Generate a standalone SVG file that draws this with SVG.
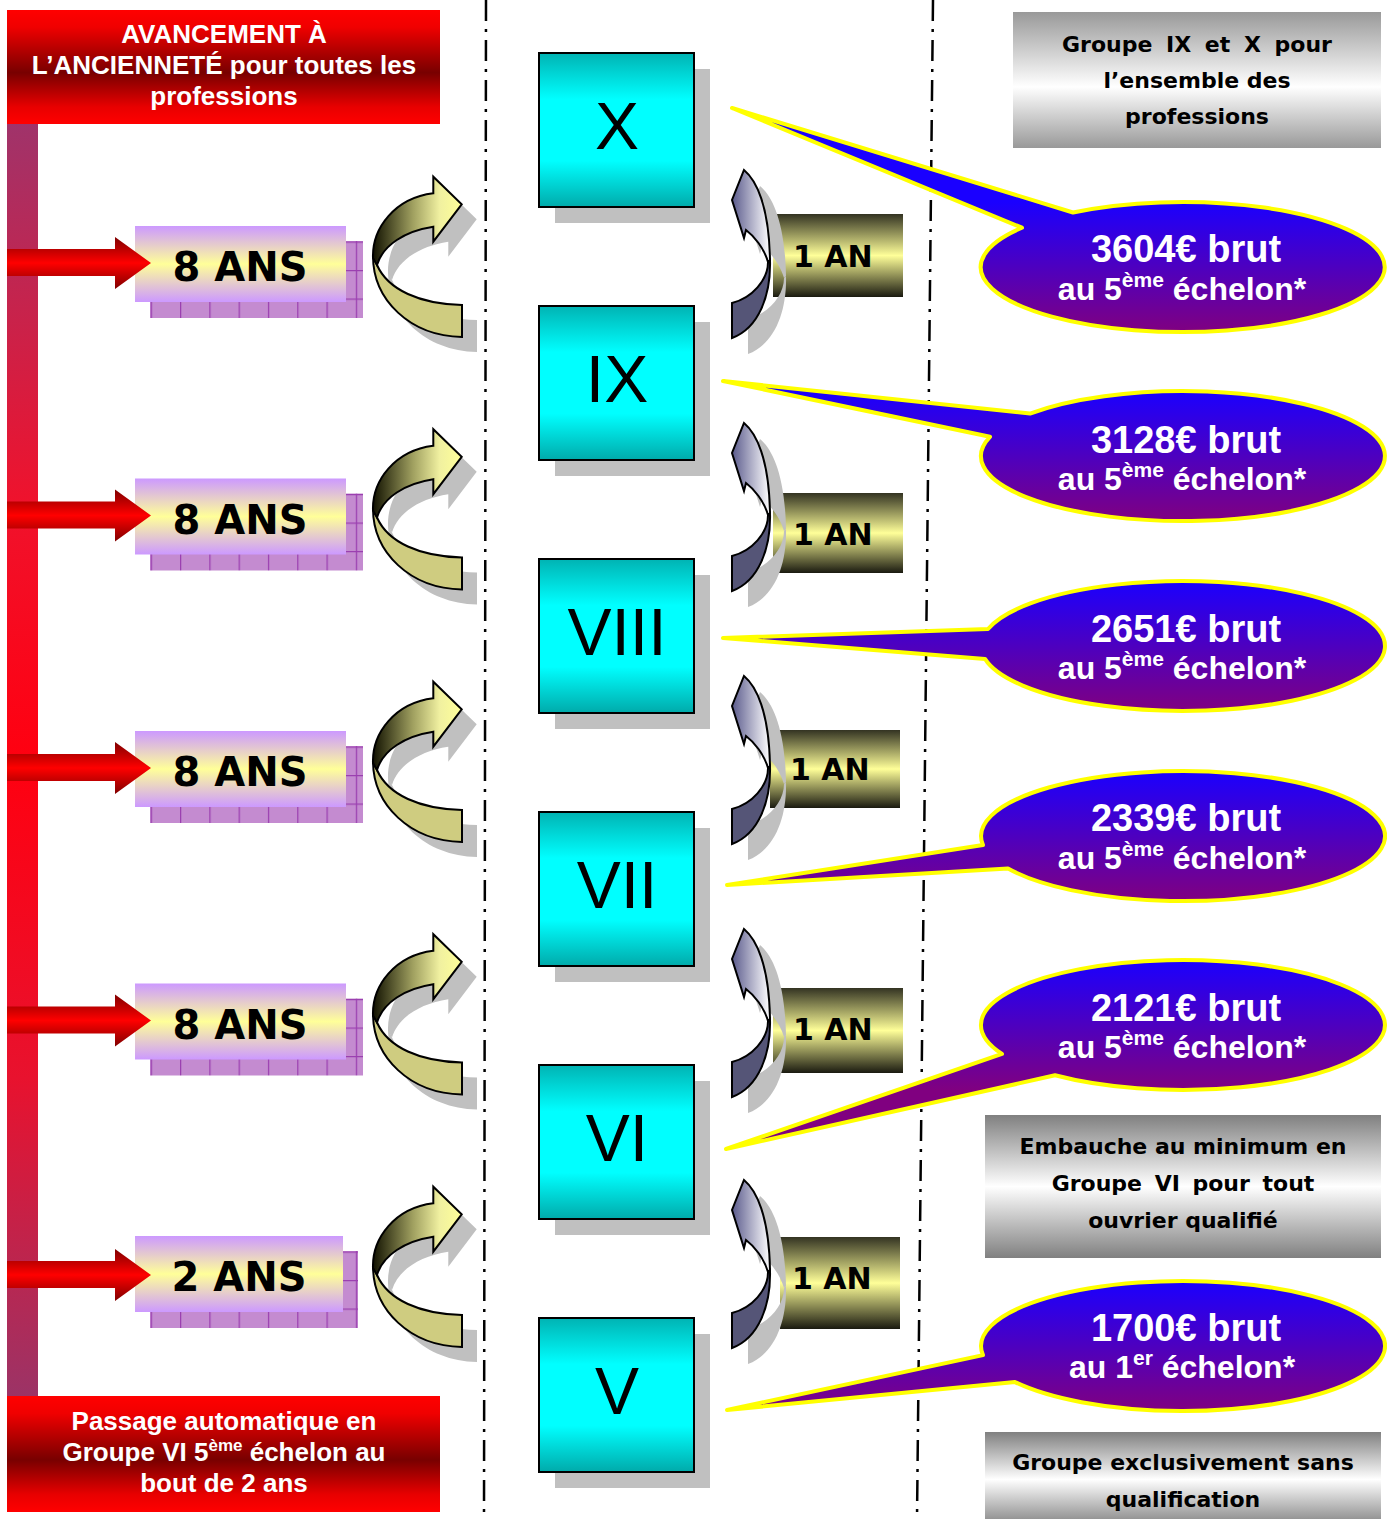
<svg xmlns="http://www.w3.org/2000/svg" xmlns:xlink="http://www.w3.org/1999/xlink" width="1387" height="1519" viewBox="0 0 1387 1519">
<style>
.redtxt{font-family:"Liberation Sans",Arial,sans-serif;font-weight:bold;font-size:26px;fill:#fff;text-anchor:middle}
.comic{font-family:"DejaVu Sans",sans-serif;font-weight:bold;fill:#000}
.ans{font-size:40px;text-anchor:middle}
.an{font-size:30px}
.gray{font-size:22px;text-anchor:middle}
.roman{font-family:"Liberation Sans",Arial,sans-serif;font-size:66px;fill:#000;text-anchor:middle}
.cl1{font-family:"Liberation Sans",Arial,sans-serif;font-weight:bold;font-size:38px;fill:#fff;text-anchor:middle}
.cl2{font-family:"Liberation Sans",Arial,sans-serif;font-weight:bold;font-size:32px;fill:#fff;text-anchor:middle}
.sup{font-size:21px}
.shadow{fill:#c0c0c0}
.cyan{fill:url(#gCyan);stroke:#000;stroke-width:2}
.anbox{fill:url(#gAn)}
.ansbox{fill:url(#gAns)}
.ansshadow{fill:url(#pShadow)}
.callout{stroke:#ffff00;stroke-width:4;stroke-linejoin:round}
.dash{stroke:#000;stroke-width:2.5;stroke-dasharray:21 8 3 8;fill:none}
</style>
<defs>
<linearGradient id="gRed" x1="0" y1="0" x2="0" y2="1"><stop offset="0" stop-color="#ff0000"/><stop offset="0.15" stop-color="#f00000"/><stop offset="0.55" stop-color="#780000"/><stop offset="0.85" stop-color="#e80000"/><stop offset="1" stop-color="#ff0000"/></linearGradient>
<linearGradient id="gBar" gradientUnits="userSpaceOnUse" x1="0" y1="124" x2="0" y2="1396"><stop offset="0" stop-color="#a0336a"/><stop offset="0.3" stop-color="#f0122c"/><stop offset="0.5" stop-color="#ff0010"/><stop offset="0.75" stop-color="#e8122e"/><stop offset="1" stop-color="#9c3366"/></linearGradient>
<linearGradient id="gArrow" x1="0" y1="0" x2="0" y2="1"><stop offset="0" stop-color="#800000"/><stop offset="0.5" stop-color="#ff0000"/><stop offset="1" stop-color="#800000"/></linearGradient>
<linearGradient id="gAns" x1="0" y1="0" x2="0" y2="1"><stop offset="0" stop-color="#cc99ff"/><stop offset="0.5" stop-color="#ffff99"/><stop offset="1" stop-color="#cc99ff"/></linearGradient>
<pattern id="pShadow" patternUnits="userSpaceOnUse" x="180" y="270" width="29.3" height="28.5"><rect width="29.3" height="28.5" fill="#c48bd0"/><path d="M0.6,0V28.5M0,0.6H29.3" stroke="#9b3fb0" stroke-width="1.3"/></pattern>
<linearGradient id="gCurl" x1="0" y1="0" x2="1" y2="0"><stop offset="0" stop-color="#111100"/><stop offset="0.45" stop-color="#a0a060"/><stop offset="0.75" stop-color="#f0f0a0"/><stop offset="1" stop-color="#ffff99"/></linearGradient>
<linearGradient id="gCyan" x1="0" y1="0" x2="0" y2="1"><stop offset="0" stop-color="#00b3b3"/><stop offset="0.3" stop-color="#00ffff"/><stop offset="0.7" stop-color="#00ffff"/><stop offset="1" stop-color="#00aaaa"/></linearGradient>
<linearGradient id="gAn" x1="0" y1="0" x2="0" y2="1"><stop offset="0" stop-color="#333322"/><stop offset="0.5" stop-color="#ffff99"/><stop offset="1" stop-color="#1a1a10"/></linearGradient>
<linearGradient id="gUp" x1="0" y1="0" x2="1" y2="0"><stop offset="0" stop-color="#5a5a8c"/><stop offset="1" stop-color="#ffffff"/></linearGradient>
<linearGradient id="gGray" x1="0" y1="0" x2="0" y2="1"><stop offset="0" stop-color="#999999"/><stop offset="0.55" stop-color="#ffffff"/><stop offset="1" stop-color="#999999"/></linearGradient>
<linearGradient id="gGray2" x1="0" y1="0" x2="0" y2="1"><stop offset="0" stop-color="#808080"/><stop offset="0.5" stop-color="#ffffff"/><stop offset="1" stop-color="#808080"/></linearGradient>
<linearGradient id="cg" x1="0" y1="0" x2="0" y2="1"><stop offset="0" stop-color="#1a00ff"/><stop offset="1" stop-color="#800080"/></linearGradient>
<linearGradient id="cg1" href="#cg" xlink:href="#cg" gradientUnits="userSpaceOnUse" x1="0" y1="202" x2="0" y2="332"/>
<linearGradient id="cg2" href="#cg" xlink:href="#cg" gradientUnits="userSpaceOnUse" x1="0" y1="391" x2="0" y2="521"/>
<linearGradient id="cg3" href="#cg" xlink:href="#cg" gradientUnits="userSpaceOnUse" x1="0" y1="581" x2="0" y2="711"/>
<linearGradient id="cg4" href="#cg" xlink:href="#cg" gradientUnits="userSpaceOnUse" x1="0" y1="771" x2="0" y2="901"/>
<linearGradient id="cg5" href="#cg" xlink:href="#cg" gradientUnits="userSpaceOnUse" x1="0" y1="960" x2="0" y2="1090"/>
<linearGradient id="cg6" href="#cg" xlink:href="#cg" gradientUnits="userSpaceOnUse" x1="0" y1="1281" x2="0" y2="1411"/>
<path id="hArrow" d="M7,249 L115,249 L115,237 L151,263 L115,289 L115,276 L7,276 Z"/>
<path id="curlF" d="M433.3,193.3 L433.3,176.7 L461.7,204.3 L433.3,241.7 L433.3,226.7 C405,231 383,245 377,265 L373,258 C372,228 395,198 433.3,193.3 Z"/>
<path id="curlB" d="M373,256 C373,300 410,336 462,337 L462,305 C420,304 388,290 377,265 Z"/>
<g id="curl">
<use href="#curlF" xlink:href="#curlF" transform="translate(15,15)" fill="#c0c0c0"/>
<use href="#curlB" xlink:href="#curlB" transform="translate(15,15)" fill="#c0c0c0"/>
<use href="#curlB" xlink:href="#curlB" fill="#cfcc80" stroke="#000" stroke-width="2"/>
<use href="#curlF" xlink:href="#curlF" fill="url(#gCurl)" stroke="#000" stroke-width="2"/>
</g>
<path id="upA" d="M0,0 C12,10 25,35 26,90 L24,92 C20,78 10,66 2,60 L0,68 L-12,30 Z"/>
<path id="upB" d="M26,90 C27,125 15,158 -12,168 L-12,133 C8,128 24,110 24,92 Z"/>
<g id="upArrow">
<use href="#upA" xlink:href="#upA" transform="translate(16,16)" fill="#c0c0c0"/>
<use href="#upB" xlink:href="#upB" transform="translate(16,16)" fill="#c0c0c0"/>
<use href="#upB" xlink:href="#upB" fill="#555577" stroke="#000" stroke-width="2"/>
<use href="#upA" xlink:href="#upA" fill="url(#gUp)" stroke="#000" stroke-width="2"/>
</g>
</defs>

<rect width="1387" height="1519" fill="#ffffff"/>

<g id="separators">
<line class="dash" x1="486" y1="0" x2="484" y2="1519"/>
<line class="dash" x1="933" y1="0" x2="917" y2="1519"/>
</g>

<g id="timeline-bar"><rect x="7" y="124" width="31" height="1272" fill="url(#gBar)"/></g>

<g id="title-top">
<rect x="7" y="10" width="433" height="114" fill="url(#gRed)"/>
<text class="redtxt" x="224" y="43">AVANCEMENT À</text>
<text class="redtxt" x="224" y="74">L’ANCIENNETÉ pour toutes les</text>
<text class="redtxt" x="224" y="105">professions</text>
</g>

<g id="title-bottom">
<rect x="7" y="1396" width="433" height="116" fill="url(#gRed)"/>
<text class="redtxt" x="224" y="1430">Passage automatique en</text>
<text class="redtxt" x="224" y="1461">Groupe VI 5<tspan font-size="17" dy="-10">ème</tspan><tspan dy="10"> échelon au</tspan></text>
<text class="redtxt" x="224" y="1492">bout de 2 ans</text>
</g>

<g id="dur-1">
<rect class="ansshadow" x="150" y="241" width="213" height="77"/>
<rect class="ansbox" x="135" y="226" width="211" height="76"/>
<text class="comic ans" x="240" y="281">8 ANS</text>
</g>
<g id="dur-2" transform="translate(0,252.5)">
<rect class="ansshadow" x="150" y="241" width="213" height="77"/>
<rect class="ansbox" x="135" y="226" width="211" height="76"/>
<text class="comic ans" x="240" y="281">8 ANS</text>
</g>
<g id="dur-3" transform="translate(0,505)">
<rect class="ansshadow" x="150" y="241" width="213" height="77"/>
<rect class="ansbox" x="135" y="226" width="211" height="76"/>
<text class="comic ans" x="240" y="281">8 ANS</text>
</g>
<g id="dur-4" transform="translate(0,757.5)">
<rect class="ansshadow" x="150" y="241" width="213" height="77"/>
<rect class="ansbox" x="135" y="226" width="211" height="76"/>
<text class="comic ans" x="240" y="281">8 ANS</text>
</g>
<g id="dur-5" transform="translate(0,1010)">
<rect class="ansshadow" x="150" y="241" width="208" height="77"/>
<rect class="ansbox" x="135" y="226" width="208" height="76"/>
<text class="comic ans" x="239" y="281">2 ANS</text>
</g>

<g id="grp-x">
<rect class="shadow" x="555" y="69" width="155" height="154"/>
<rect class="cyan" x="539" y="53" width="155" height="154"/>
<text class="roman" x="617" y="149">X</text>
</g>
<g id="grp-ix">
<rect class="shadow" x="555" y="322" width="155" height="154"/>
<rect class="cyan" x="539" y="306" width="155" height="154"/>
<text class="roman" x="617" y="402">IX</text>
</g>
<g id="grp-viii">
<rect class="shadow" x="555" y="575" width="155" height="154"/>
<rect class="cyan" x="539" y="559" width="155" height="154"/>
<text class="roman" x="617" y="655">VIII</text>
</g>
<g id="grp-vii">
<rect class="shadow" x="555" y="828" width="155" height="154"/>
<rect class="cyan" x="539" y="812" width="155" height="154"/>
<text class="roman" x="617" y="908">VII</text>
</g>
<g id="grp-vi">
<rect class="shadow" x="555" y="1081" width="155" height="154"/>
<rect class="cyan" x="539" y="1065" width="155" height="154"/>
<text class="roman" x="617" y="1161">VI</text>
</g>
<g id="grp-v">
<rect class="shadow" x="555" y="1334" width="155" height="154"/>
<rect class="cyan" x="539" y="1318" width="155" height="154"/>
<text class="roman" x="617" y="1414">V</text>
</g>

<g id="step-1"><rect class="anbox" x="773" y="214" width="130" height="83"/><text class="comic an" x="793" y="267">1 AN</text></g>
<g id="step-2"><rect class="anbox" x="773" y="493" width="130" height="80"/><text class="comic an" x="793" y="545">1 AN</text></g>
<g id="step-3"><rect class="anbox" x="770" y="730" width="130" height="78"/><text class="comic an" x="790" y="780">1 AN</text></g>
<g id="step-4"><rect class="anbox" x="773" y="988" width="130" height="85"/><text class="comic an" x="793" y="1040">1 AN</text></g>
<g id="step-5"><rect class="anbox" x="780" y="1237" width="120" height="92"/><text class="comic an" x="792" y="1289">1 AN</text></g>

<g id="connectors">
<use href="#hArrow" xlink:href="#hArrow" fill="url(#gArrow)"/>
<use href="#hArrow" xlink:href="#hArrow" fill="url(#gArrow)" transform="translate(0,252.5)"/>
<use href="#hArrow" xlink:href="#hArrow" fill="url(#gArrow)" transform="translate(0,505)"/>
<use href="#hArrow" xlink:href="#hArrow" fill="url(#gArrow)" transform="translate(0,757.5)"/>
<use href="#hArrow" xlink:href="#hArrow" fill="url(#gArrow)" transform="translate(0,1012)"/>
<use href="#curl" xlink:href="#curl"/>
<use href="#curl" xlink:href="#curl" transform="translate(0,252.5)"/>
<use href="#curl" xlink:href="#curl" transform="translate(0,505)"/>
<use href="#curl" xlink:href="#curl" transform="translate(0,757.5)"/>
<use href="#curl" xlink:href="#curl" transform="translate(0,1010)"/>
<use href="#upArrow" xlink:href="#upArrow" transform="translate(744,170)"/>
<use href="#upArrow" xlink:href="#upArrow" transform="translate(744,423)"/>
<use href="#upArrow" xlink:href="#upArrow" transform="translate(744,676)"/>
<use href="#upArrow" xlink:href="#upArrow" transform="translate(744,929)"/>
<use href="#upArrow" xlink:href="#upArrow" transform="translate(744,1180)"/>
</g>

<g id="salary-x">
<path class="callout" fill="url(#cg1)" d="M732,108 L1073,212.5 A202,65 0 1 1 1022,227.7 Z"/>
<text class="cl1" x="1186" y="262">3604€ brut</text>
<text class="cl2" x="1182" y="300">au 5<tspan class="sup" dy="-13">ème</tspan><tspan dy="13"> échelon*</tspan></text>
</g>
<g id="salary-ix">
<path class="callout" fill="url(#cg2)" d="M723,381 L1030,413.6 A202,65 0 1 1 990,436.8 Z"/>
<text class="cl1" x="1186" y="453">3128€ brut</text>
<text class="cl2" x="1182" y="490">au 5<tspan class="sup" dy="-13">ème</tspan><tspan dy="13"> échelon*</tspan></text>
</g>
<g id="salary-viii">
<path class="callout" fill="url(#cg3)" d="M723,638 L988,629 A202,65 0 1 1 985,658.9 Z"/>
<text class="cl1" x="1186" y="642">2651€ brut</text>
<text class="cl2" x="1182" y="679">au 5<tspan class="sup" dy="-13">ème</tspan><tspan dy="13"> échelon*</tspan></text>
</g>
<g id="salary-vii">
<path class="callout" fill="url(#cg4)" d="M727,885 L983,845.1 A202,65 0 1 1 1008,868.5 Z"/>
<text class="cl1" x="1186" y="831">2339€ brut</text>
<text class="cl2" x="1182" y="869">au 5<tspan class="sup" dy="-13">ème</tspan><tspan dy="13"> échelon*</tspan></text>
</g>
<g id="salary-vi">
<path class="callout" fill="url(#cg5)" d="M726,1149 L1002,1053.9 A202,65 0 1 1 1055,1075.3 Z"/>
<text class="cl1" x="1186" y="1021">2121€ brut</text>
<text class="cl2" x="1182" y="1058">au 5<tspan class="sup" dy="-13">ème</tspan><tspan dy="13"> échelon*</tspan></text>
</g>
<g id="salary-v">
<path class="callout" fill="url(#cg6)" d="M727,1410 L983,1355.1 A202,65 0 1 1 1015,1382.1 Z"/>
<text class="cl1" x="1186" y="1341">1700€ brut</text>
<text class="cl2" x="1182" y="1378">au 1<tspan class="sup" dy="-13">er</tspan><tspan dy="13"> échelon*</tspan></text>
</g>

<g id="note-ix-x">
<rect x="1013" y="12" width="368" height="136" fill="url(#gGray)"/>
<text class="comic gray" x="1197" y="52" word-spacing="6">Groupe IX et X pour</text>
<text class="comic gray" x="1197" y="88">l’ensemble des</text>
<text class="comic gray" x="1197" y="124">professions</text>
</g>
<g id="note-vi">
<rect x="985" y="1115" width="396" height="143" fill="url(#gGray2)"/>
<text class="comic gray" x="1183" y="1154">Embauche au minimum en</text>
<text class="comic gray" x="1183" y="1191" word-spacing="5">Groupe VI pour tout</text>
<text class="comic gray" x="1183" y="1228">ouvrier qualifié</text>
</g>
<g id="note-v">
<rect x="985" y="1432" width="396" height="95" fill="url(#gGray2)"/>
<text class="comic gray" x="1183" y="1470">Groupe exclusivement sans</text>
<text class="comic gray" x="1183" y="1507">qualification</text>
</g>
</svg>
